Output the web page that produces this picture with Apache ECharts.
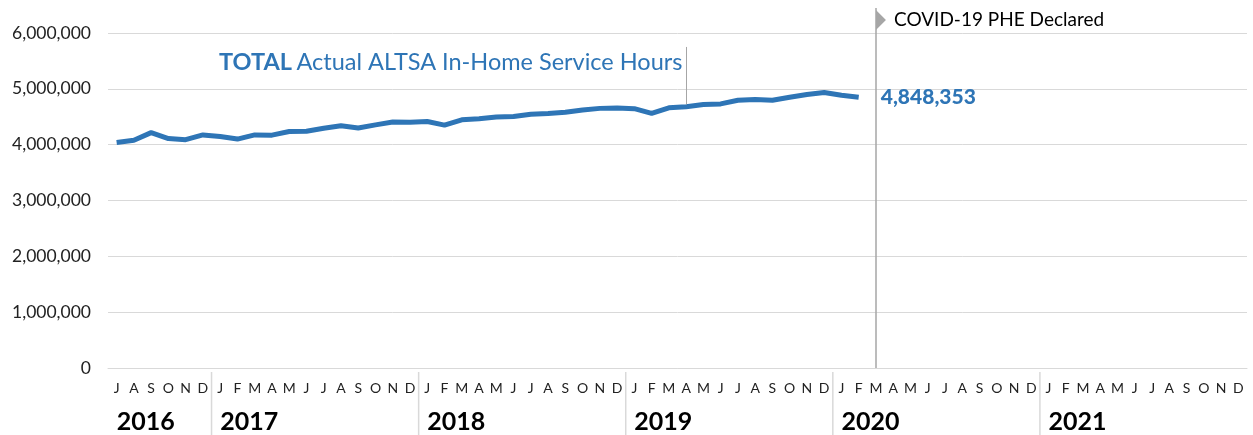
<!DOCTYPE html>
<html>
<head>
<meta charset="utf-8">
<script src="https://cdn.jsdelivr.net/npm/echarts@6/dist/echarts.min.js"></script>
<style>
  html, body { margin: 0; padding: 0; background: #fff; }
  #chart { width: 1253px; height: 435px; }
</style>
</head>
<body>
<div id="chart"></div>
<script>
// 月份和年份
const monthInitials = ['J', 'F', 'M', 'A', 'M', 'J', 'J', 'A', 'S', 'O', 'N', 'D'];
const years = ['2016', '2017', '2018', '2019', '2020', '2021'];
const firstMonth = 6; // July 2016

// monthly hours, Jul 2016 .. Feb 2020
const hours = [
  4040000, 4080000, 4215000, 4110000, 4090000, 4175000,
  4145000, 4100000, 4175000, 4170000, 4235000, 4240000, 4295000, 4340000, 4300000, 4355000, 4405000, 4400000,
  4415000, 4350000, 4445000, 4465000, 4495000, 4505000, 4545000, 4560000, 4580000, 4620000, 4650000, 4655000,
  4645000, 4560000, 4660000, 4680000, 4720000, 4730000, 4795000, 4810000, 4795000, 4850000, 4900000, 4935000,
  4885000, 4848353
];
const yMax = 6000000;
const yStep = 1000000;

const pheMonth = '2020-03';
const calloutMonth = '2019-04';
const calloutRange = [5750000, 4720000];

const categories = [];
years.forEach((y, k) => {
  for (let m = k === 0 ? firstMonth : 0; m < 12; m++) {
    categories.push(y + '-' + String(m + 1).padStart(2, '0'));
  }
});
const monthOf = c => monthInitials[+c.slice(5) - 1];
const isYearStart = (i, c) => i === 0 || c.endsWith('-01');
const separators = categories.filter((c, i) => i > 0 && c.endsWith('-01'));

const blue = '#2E75B6';
const gray = '#d9d9d9';
const font = 'Lato, "Open Sans", sans-serif';

let myChart = echarts.init(document.getElementById('chart'));
myChart.setOption({
  animation: false,
  textStyle: { fontFamily: font },
  title: {
    text: '{b|TOTAL} {n|Actual ALTSA In-Home Service Hours}',
    left: 214,
    top: 45,
    textStyle: {
      fontWeight: 'normal',
      rich: {
        b: { fontFamily: font, fontSize: 23.5, fontWeight: 'bold', color: blue },
        n: { fontFamily: font, fontSize: 23.5, fontWeight: 'normal', color: blue }
      }
    }
  },
  grid: [
    { left: 108, right: 6, top: 33, bottom: 67, outerBoundsMode: 'none' },
    { left: 108, right: 6, top: 8, bottom: 67, outerBoundsMode: 'none' },
    { left: 108, right: 6, top: 372, bottom: 0, outerBoundsMode: 'none' }
  ],
  xAxis: [
    {
      type: 'category',
      gridIndex: 0,
      data: categories,
      axisLine: { lineStyle: { color: gray } },
      axisTick: { show: false },
      axisLabel: {
        interval: 0,
        margin: 13,
        fontSize: 14,
        color: '#222',
        formatter: v => monthOf(v)
      }
    },
    {
      type: 'category',
      gridIndex: 0,
      position: 'bottom',
      data: categories,
      axisLine: { show: false },
      axisTick: { show: false },
      axisLabel: {
        interval: isYearStart,
        align: 'left',
        margin: 41,
        fontSize: 25,
        fontWeight: 'bold',
        color: '#000',
        formatter: v => v.slice(0, 4)
      }
    },
    { type: 'category', gridIndex: 1, data: categories, show: false },
    { type: 'category', gridIndex: 2, data: categories, show: false }
  ],
  yAxis: [
    {
      type: 'value',
      gridIndex: 0,
      min: 0,
      max: yMax,
      interval: yStep,
      axisLine: { show: false },
      axisTick: { show: false },
      splitLine: { lineStyle: { color: gray } },
      axisLabel: {
        margin: 17,
        fontSize: 17.5,
        color: '#222',
        formatter: v => v.toLocaleString('en-US')
      }
    },
    { type: 'value', gridIndex: 1, min: 0, max: 1, show: false },
    { type: 'value', gridIndex: 2, min: 0, max: 1, show: false }
  ],
  series: [
    {
      name: 'TOTAL Actual ALTSA In-Home Service Hours',
      type: 'line',
      xAxisIndex: 0,
      yAxisIndex: 0,
      data: hours,
      showSymbol: false,
      lineStyle: { color: blue, width: 5 },
      itemStyle: { color: blue },
      endLabel: {
        show: true,
        distance: 22,
        fontSize: 21,
        fontWeight: 900,
        color: blue,
        formatter: p => p.value.toLocaleString('en-US')
      },
      markLine: { // 标题指引线
        silent: true,
        symbol: 'none',
        label: { show: false },
        lineStyle: { color: '#a6a6a6', width: 1, type: 'solid' },
        data: [[{ coord: [calloutMonth, calloutRange[0]] }, { coord: [calloutMonth, calloutRange[1]] }]]
      }
    },
    {
      type: 'line',
      xAxisIndex: 2,
      yAxisIndex: 1,
      data: [],
      markLine: {
        silent: true,
        symbol: 'none',
        label: { show: false },
        lineStyle: { color: '#a6a6a6', width: 1.5, type: 'solid' },
        data: [[{ coord: [pheMonth, 0] }, { coord: [pheMonth, 1] }]]
      },
      markPoint: {
        silent: true,
        symbol: 'path://M0,0 L10,10 L0,20 Z',
        symbolSize: [10, 20],
        symbolOffset: [5, 12],
        itemStyle: { color: '#a6a6a6' },
        label: {
          show: true,
          position: 'right',
          distance: 8,
          fontSize: 19,
          color: '#000',
          formatter: 'COVID-19 PHE Declared'
        },
        data: [{ coord: [pheMonth, 1] }]
      }
    },
    {
      type: 'custom',
      xAxisIndex: 3,
      yAxisIndex: 2,
      silent: true,
      data: separators.map(c => [c, 0]),
      encode: { x: 0, y: 1 },
      renderItem: function (params, api) { // 年份分隔线
        const half = api.size([1, 0])[0] / 2;
        const top = api.coord([api.value(0), 1]);
        const bottom = api.coord([api.value(0), 0]);
        return {
          type: 'line',
          shape: { x1: top[0] - half, y1: top[1], x2: bottom[0] - half, y2: bottom[1] },
          style: { stroke: gray, lineWidth: 1.5 }
        };
      }
    }
  ]
});
window.onresize = function () {
  myChart.resize();
};
</script>
</body>
</html>
